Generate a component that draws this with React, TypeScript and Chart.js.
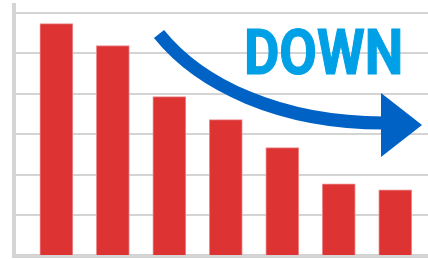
import { useEffect, useRef } from 'react';
import { Chart, registerables } from 'chart.js';

Chart.register(...registerables);

// Data
const positions = [1, 2, 3, 4, 5, 6, 7];
const values = [5.73, 5.19, 3.93, 3.36, 2.67, 1.78, 1.63];
const yTicks = [0, 1, 2, 3, 4, 5, 6];
const caption = 'DOWN';

export default function App() {
  const ref = useRef<HTMLCanvasElement>(null);

  useEffect(() => {
    document.body.style.margin = '0';
    const overlay = {
      id: 'overlay',
      afterDatasetsDraw(chart: any) {
        const ctx: CanvasRenderingContext2D = chart.ctx;
        ctx.save();
        // Curved arrow
        ctx.strokeStyle = '#0062c4';
        ctx.fillStyle = '#0062c4';
        ctx.lineWidth = 13;
        ctx.lineCap = 'butt';
        ctx.beginPath();
        ctx.moveTo(159, 34);
        ctx.bezierCurveTo(200, 85, 280, 123, 384, 123);
        ctx.stroke();
        ctx.beginPath();
        ctx.moveTo(381, 93);
        ctx.lineTo(422, 125);
        ctx.lineTo(381, 157);
        ctx.closePath();
        ctx.fill();

        // Caption text
        ctx.fillStyle = '#00a0e6';
        ctx.strokeStyle = '#00a0e6';
        ctx.lineWidth = 1.2;
        ctx.font = 'bold 100px Roboto';
        const m0 = ctx.measureText(caption);
        const size = (100 * 45) / m0.actualBoundingBoxAscent;
        ctx.font = `bold ${size}px Roboto`;
        const m = ctx.measureText(caption);
        const inkW = m.actualBoundingBoxLeft + m.actualBoundingBoxRight;
        const sx = 154 / inkW;
        ctx.translate(246.5, 73.5);
        ctx.scale(sx, 1);
        ctx.textBaseline = 'alphabetic';
        ctx.fillText(caption, m.actualBoundingBoxLeft, 0);
        ctx.strokeText(caption, m.actualBoundingBoxLeft, 0);
        ctx.restore();
      },
    };

    const chart = new Chart(ref.current!, {
      type: 'bar',
      data: {
        datasets: [
          {
            data: positions.map((x, i) => ({ x, y: values[i] })),
            backgroundColor: '#dd3333',
            borderColor: '#ec8c8c',
            borderWidth: 1,
            barThickness: 33,
          },
        ],
      },
      options: {
        animation: false,
        responsive: false,
        maintainAspectRatio: false,
        layout: { padding: { left: 14, right: 0, top: 4.5, bottom: 3 } },
        plugins: { legend: { display: false }, tooltip: { enabled: false } },
        scales: {
          x: {
            type: 'linear',
            min: 0.25,
            max: 7.58,
            offset: false,
            ticks: { display: false },
            grid: { display: false, drawTicks: false, offset: false },
            border: { display: true, color: '#d4d4d4', width: 4 },
          },
          y: {
            min: 0,
            max: 6.2,
            afterBuildTicks: (s: any) => {
              s.ticks = yTicks.map((v) => ({ value: v }));
            },
            ticks: { display: false },
            grid: { color: '#d4d4d4', lineWidth: 2, drawTicks: false },
            border: { display: true, color: '#d4d4d4', width: 4 },
          },
        },
      } as any,
      plugins: [overlay],
    });
    return () => chart.destroy();
  }, []);

  return (
    <div style={{ position: 'fixed', left: 0, top: 0, width: 428, height: 259, background: '#fff' }}>
      <canvas ref={ref} width={428} height={259} />
    </div>
  );
}
